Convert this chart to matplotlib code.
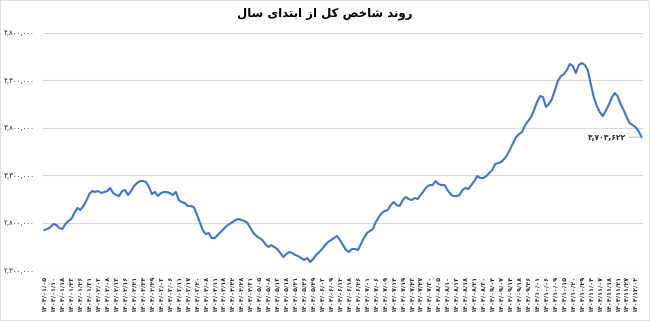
import numpy as np
import matplotlib
matplotlib.use('Agg')
import matplotlib.pyplot as plt
from matplotlib.patches import Rectangle
from matplotlib.ticker import FuncFormatter

plt.rcParams['font.family'] = ['DejaVu Sans']

title = 'روند شاخص کل از ابتدای سال'

# index level (thousands), one value per trading day
index_k = [
    2722, 2732, 2753, 2785, 2774, 2743, 2732, 2785, 2817, 2838,
    2901, 2954, 2933, 2975, 3028, 3101, 3133, 3123, 3133, 3112,
    3123, 3133, 3165, 3112, 3091, 3080, 3133, 3144, 3091, 3133,
    3186, 3217, 3239, 3239, 3228, 3175, 3101, 3123, 3080, 3112,
    3123, 3123, 3112, 3091, 3123, 3038, 3017, 3006, 2975, 2975,
    2964, 2890, 2806, 2722, 2679, 2690, 2637, 2637, 2669, 2701,
    2732, 2764, 2785, 2806, 2827, 2838, 2827, 2817, 2795, 2743,
    2690, 2658, 2637, 2616, 2574, 2542, 2563, 2542, 2521, 2479,
    2437, 2468, 2490, 2479, 2458, 2447, 2426, 2405, 2426, 2384,
    2416, 2458, 2490, 2521, 2563, 2595, 2616, 2637, 2658, 2616,
    2563, 2511, 2490, 2521, 2521, 2511, 2574, 2637, 2690, 2711,
    2732, 2806, 2859, 2901, 2922, 2933, 2985, 3017, 2985, 2975,
    3038, 3070, 3049, 3038, 3059, 3049, 3091, 3133, 3175, 3196,
    3196, 3239, 3207, 3196, 3196, 3144, 3101, 3080, 3080, 3091,
    3144, 3165, 3154, 3196, 3239, 3291, 3270, 3270, 3291, 3323,
    3355, 3418, 3428, 3439, 3471, 3513, 3576, 3639, 3703, 3734,
    3756, 3829, 3872, 3914, 3988, 4072, 4135, 4125, 4019, 4051,
    4104, 4199, 4294, 4346, 4367, 4410, 4473, 4452, 4378, 4462,
    4483, 4462, 4410, 4262, 4125, 4030, 3967, 3924, 3977, 4040,
    4114, 4167, 4135, 4051, 3988, 3914, 3850, 3829, 3808, 3766,
    3703.622,
]

dates = [
    '1404/01/05', '1404/01/10', '1404/01/18', '1404/01/23', '1404/01/26',
    '1404/01/31', '1404/02/03', '1404/02/08', '1404/02/13', '1404/02/16',
    '1404/02/21', '1404/02/24', '1404/02/29', '1404/03/03', '1404/03/06',
    '1404/03/11', '1404/03/17', '1404/03/20', '1404/04/08', '1404/04/11',
    '1404/04/18', '1404/04/22', '1404/04/28', '1404/04/31', '1404/05/05',
    '1404/05/08', '1404/05/13', '1404/05/18', '1404/05/21', '1404/05/26',
    '1404/05/29', '1404/06/03', '1404/06/09', '1404/06/12', '1404/06/18',
    '1404/06/26', '1404/07/01', '1404/07/06', '1404/07/09', '1404/07/14',
    '1404/07/19', '1404/07/23', '1404/07/27', '1404/07/30', '1404/08/05',
    '1404/08/10', '1404/08/13', '1404/08/18', '1404/08/21', '1404/08/30',
    '1404/09/04', '1404/09/07', '1404/09/14', '1404/09/18', '1404/09/26',
    '1404/10/01', '1404/10/06', '1404/10/09', '1404/10/15', '1404/10/20',
    '1404/10/29', '1404/11/04', '1404/11/07', '1404/11/18', '1404/11/21',
    '1404/11/27', '1404/12/02',
]

yticks = [2300000, 2800000, 3300000, 3800000, 4300000, 4800000]

fa_digits = str.maketrans('0123456789', '۰۱۲۳۴۵۶۷۸۹')


# matplotlib has no arabic shaping: pick presentation forms and reverse
FORMS = {
    'ا': ('\uFE8D', '\uFE8E'), 'د': ('\uFEA9', '\uFEAA'),
    'ر': ('\uFEAD', '\uFEAE'), 'ز': ('\uFEAF', '\uFEB0'),
    'و': ('\uFEED', '\uFEEE'),
    'ب': ('\uFE8F', '\uFE90', '\uFE91', '\uFE92'),
    'ت': ('\uFE95', '\uFE96', '\uFE97', '\uFE98'),
    'خ': ('\uFEA5', '\uFEA6', '\uFEA7', '\uFEA8'),
    'س': ('\uFEB1', '\uFEB2', '\uFEB3', '\uFEB4'),
    'ش': ('\uFEB5', '\uFEB6', '\uFEB7', '\uFEB8'),
    'ص': ('\uFEB9', '\uFEBA', '\uFEBB', '\uFEBC'),
    'ک': ('\uFB8E', '\uFB8F', '\uFB90', '\uFB91'),
    'ل': ('\uFEDD', '\uFEDE', '\uFEDF', '\uFEE0'),
    'ن': ('\uFEE5', '\uFEE6', '\uFEE7', '\uFEE8'),
    'ی': ('\uFBFC', '\uFBFD', '\uFBFE', '\uFBFF'),
}


def shape(text):
    out = []
    for i, ch in enumerate(text):
        f = FORMS.get(ch)
        if f is None:
            out.append(ch)
            continue
        prev = text[i - 1] if i > 0 else ''
        nxt = text[i + 1] if i + 1 < len(text) else ''
        jp = prev in FORMS and len(FORMS[prev]) == 4
        jn = nxt in FORMS and len(f) == 4
        if jp and jn:
            out.append(f[3])
        elif jp:
            out.append(f[1])
        elif jn:
            out.append(f[2])
        else:
            out.append(f[0])
    return ''.join(reversed(out))


values = np.array(index_k) * 1000
x = np.arange(len(values))

fig = plt.figure(figsize=(6.5, 3.21), dpi=100)
ax = fig.add_axes([43 / 650, 51 / 321, 600 / 650, 237 / 321])

ax.plot(x, values, color='#4472C4', linewidth=1.5, solid_joinstyle='round')

ax.set_xlim(-0.5, len(values) - 0.5)
ax.set_ylim(yticks[0], yticks[-1])
ax.set_yticks(yticks)
ax.yaxis.set_major_formatter(FuncFormatter(lambda v, p: f'{int(v):,}'.translate(fa_digits)))
ax.grid(axis='y', color='#d9d9d9', linewidth=0.8)
ax.set_axisbelow(True)
for s in ax.spines.values():
    s.set_visible(False)
ax.tick_params(axis='y', length=0, labelsize=5, pad=6, labelcolor='#262626')

tick_pos = x[::3][:len(dates)]
ax.set_xticks(tick_pos)
ax.set_xticklabels([d.translate(fa_digits) for d in dates], rotation=90,
                   fontsize=4.6, color='#262626', fontweight='bold')
ax.tick_params(axis='x', length=0, pad=4)

last = values[-1]
ax.annotate(f'{int(last):,}'.translate(fa_digits), xy=(x[-1], last),
            xytext=(-15, -1), textcoords='offset pixels', ha='right', va='center',
            fontsize=5.5, fontweight='bold', color='#262626',
            arrowprops=dict(arrowstyle='-', color='#a6a6a6', linewidth=0.6,
                            shrinkA=0, shrinkB=0))

fig.text(0.5, 1 - 14 / 321, shape(title), ha='center', va='center',
         fontsize=8.5, fontweight='bold', color='#000000')

fig.patches.append(Rectangle((0, 0), 1, 1, transform=fig.transFigure, fill=False,
                             edgecolor='#d9d9d9', linewidth=1.2))

fig.savefig('out.png', dpi=100, facecolor='white')
